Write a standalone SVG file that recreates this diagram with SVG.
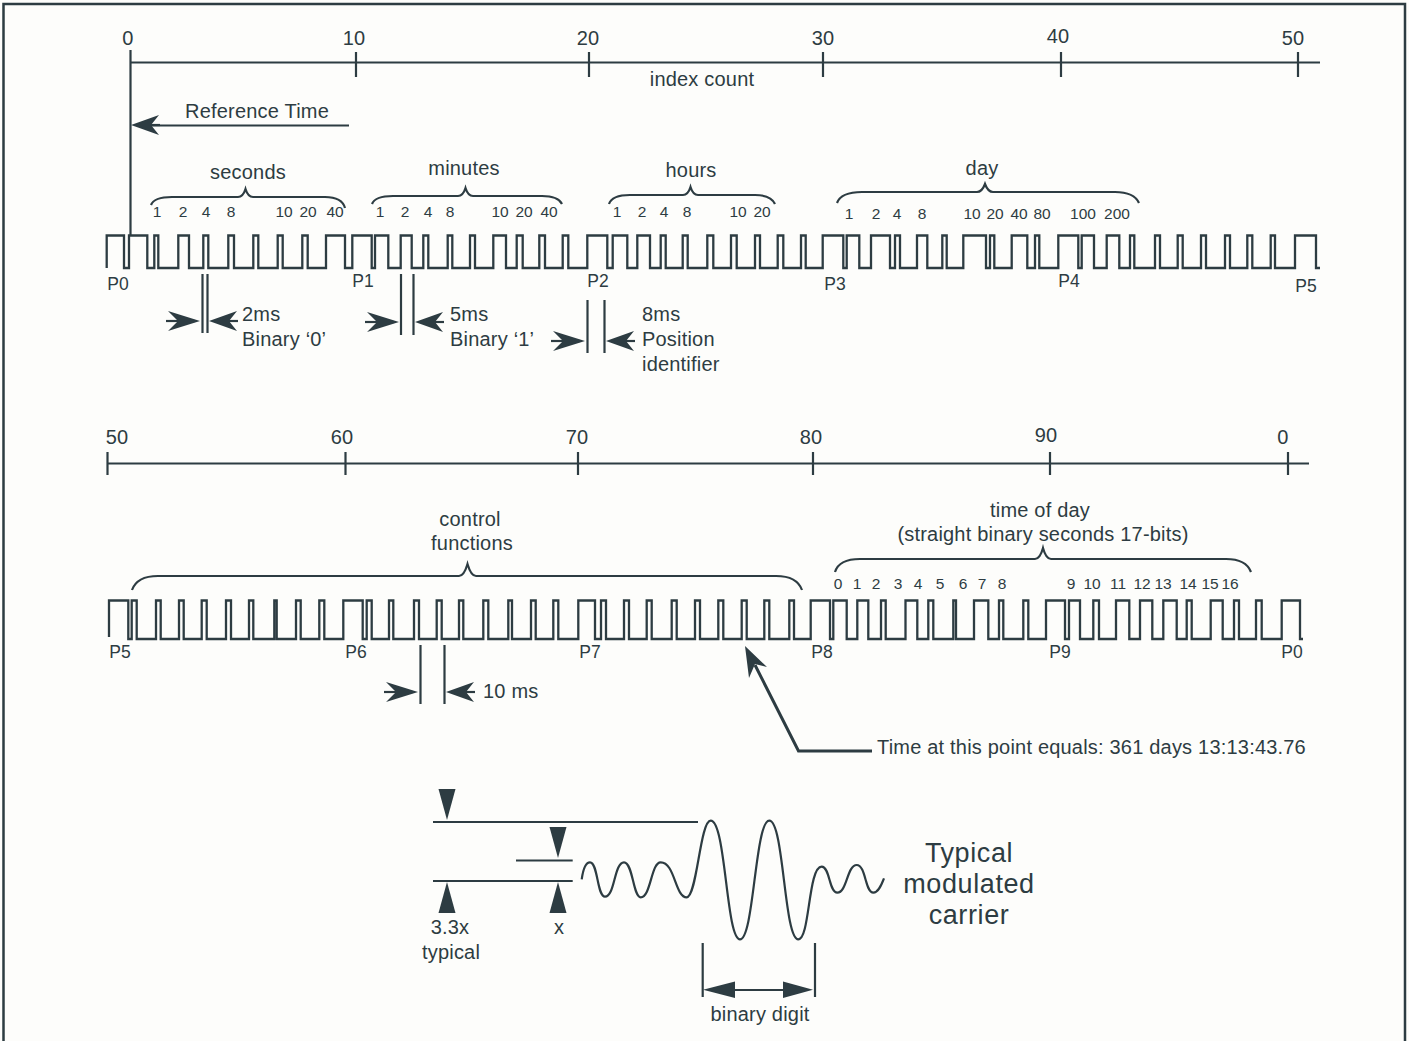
<svg xmlns="http://www.w3.org/2000/svg" xmlns:xlink="http://www.w3.org/1999/xlink" width="1409" height="1041" viewBox="0 0 1409 1041">
<style>
text{font-family:"Liberation Sans",Arial,sans-serif;fill:#2d3c42;text-anchor:middle}
.l{font-size:20px;letter-spacing:.2px}
.s{font-size:15.5px}
.p{font-size:17.5px}
.b{font-size:27px;letter-spacing:.6px}
.st{text-anchor:start}
.line{fill:none;stroke:#2d3c42;stroke-width:2.200}
.wave{fill:none;stroke:#2d3c42;stroke-width:2.300;stroke-linejoin:miter}
.head{fill:#2d3c42}
.tail{stroke:#2d3c42;stroke-width:2.200}
</style>
<defs>
<g id="ar"><line class="tail" x1="-34" y1="0" x2="-5" y2="0"/><polygon class="head" points="0,0 -32,-10 -22,0 -32,10"/></g>
<g id="al"><line class="tail" x1="29" y1="0" x2="5" y2="0"/><polygon class="head" points="0,0 28,-10 20,0 28,10"/></g>
<polygon id="td" class="head" points="0,0 -8.5,-31 8.5,-31"/>
<polygon id="tu" class="head" points="0,0 -8.5,31 8.5,31"/>
</defs>
<rect width="1409" height="1041" fill="#fdfdfb"/>
<path id="frame" d="M3.5 1041V4H1405V1041" fill="none" stroke="#2d3c42" stroke-width="2.500"/>

<g id="index-scale-top">
<path class="line" d="M130 62.500H1320M356 52V77M589 52V77M823 52V77M1061 52V77M1298 52V77"/>
<text class="l" x="128" y="45">0</text><text class="l" x="354" y="45">10</text><text class="l" x="588" y="45">20</text><text class="l" x="823" y="45">30</text><text class="l" x="1058" y="43">40</text><text class="l" x="1293" y="45">50</text>
<text class="l" x="702" y="86">index count</text>
</g>

<g id="reference-time">
<path class="line" d="M130.500 50V235M150 125.500H349"/>
<use href="#al" x="131" y="125"/>
<text class="l" x="257" y="118">Reference Time</text>
</g>

<g id="field-seconds">
<path class="line" d="M151 205Q154 197 172 197H238Q243 197 245.500 189Q248 197 253 197H325Q342 197 345 208"/>
<text class="l" x="248" y="179">seconds</text>
<g class="s"><text x="157" y="217">1</text><text x="183" y="217">2</text><text x="206" y="217">4</text><text x="231" y="217">8</text><text x="284" y="217">10</text><text x="308" y="217">20</text><text x="335" y="217">40</text></g>
</g>
<g id="field-minutes">
<path class="line" d="M372 204Q375 196 393 196H458Q463 196 465.500 188Q468 196 473 196H542Q558 196 562 204"/>
<text class="l" x="464" y="175">minutes</text>
<g class="s"><text x="380" y="217">1</text><text x="405" y="217">2</text><text x="428" y="217">4</text><text x="450" y="217">8</text><text x="500" y="217">10</text><text x="524" y="217">20</text><text x="549" y="217">40</text></g>
</g>
<g id="field-hours">
<path class="line" d="M609 204Q612 195 630 195H683Q688 195 690.500 187Q693 195 698 195H755Q771 195 775 204"/>
<text class="l" x="691" y="177">hours</text>
<g class="s"><text x="617" y="217">1</text><text x="642" y="217">2</text><text x="664" y="217">4</text><text x="687" y="217">8</text><text x="738" y="217">10</text><text x="762" y="217">20</text></g>
</g>
<g id="field-day">
<path class="line" d="M837 203Q841 192 862 192H977Q982 192 985 184Q988 192 993 192H1115Q1134 192 1139 203"/>
<text class="l" x="982" y="175">day</text>
<g class="s"><text x="849" y="219">1</text><text x="876" y="219">2</text><text x="897" y="219">4</text><text x="922" y="219">8</text><text x="972" y="219">10</text><text x="995" y="219">20</text><text x="1019" y="219">40</text><text x="1042" y="219">80</text><text x="1083" y="219">100</text><text x="1117" y="219">200</text></g>
</g>

<g id="timecode-row-1">
<path class="wave" d="M106.700 268V235.500H124V268H129V235.500H147.300V268H154.300V235.500H158.300V268H178.300V235.500H189V268H203.300V235.500H208.300V268H228.300V235.500H234V268H253.300V235.500H258.300V268H277.700V235.500H282.700V268H302.300V235.500H307.700V268H326V235.500H345V268H352.300V235.500H371.700V268H375V235.500H388.300V268H400.700V235.500H411.700V268H423.300V235.500H428.300V268H447.700V235.500H452.300V268H470V235.500H475V268H493.300V235.500H506V268H516.700V235.500H522.700V268H539.300V235.500H545V268H562.700V235.500H568.300V268H587.300V235.500H607.300V268H612.700V235.500H627.300V268H637.300V235.500H650V268H660.700V235.500H665.700V268H682.700V235.500H687.700V268H707.300V235.500H713.300V268H731V235.500H736.700V268H755V235.500H760V268H777.700V235.500H783.300V268H801V235.500H805.700V268H822.700V235.500H843.300V268H846.700V235.500H859.300V268H871V235.500H890V268H895V235.500H900V268H917V235.500H927.300V268H942.300V235.500H946.700V268H963.300V235.500H986V268H990V235.500H994.300V268H1011.700V235.500H1027.300V268H1035V235.500H1039.300V268H1058.300V235.500H1078.300V268H1081.700V235.500H1094V268H1106.700V235.500H1119.300V268H1130V235.500H1134.300V268H1155V235.500H1160V268H1177.700V235.500H1182.700V268H1201V235.500H1206V268H1225V235.500H1230V268H1247.300V235.500H1252.300V268H1270.700V235.500H1275V268H1295V235.500H1316V268H1320"/>
<g class="p"><text x="118" y="290">P0</text><text x="363" y="287">P1</text><text x="598" y="287">P2</text><text x="835" y="290">P3</text><text x="1069" y="287">P4</text><text x="1306" y="292">P5</text></g>
</g>

<g id="width-2ms">
<path class="line" d="M202.500 274V333M207.500 274V333"/>
<use href="#ar" x="200" y="321"/><use href="#al" x="209" y="321"/>
<text class="l st" x="242" y="321">2ms</text><text class="l st" x="242" y="346">Binary ‘0’</text>
</g>
<g id="width-5ms">
<path class="line" d="M401 274V335M413.500 274V335"/>
<use href="#ar" x="399" y="322"/><use href="#al" x="415" y="322"/>
<text class="l st" x="450" y="321">5ms</text><text class="l st" x="450" y="346">Binary ‘1’</text>
</g>
<g id="width-8ms">
<path class="line" d="M587.500 300V353M604.500 300V353"/>
<use href="#ar" x="585" y="341"/><use href="#al" x="606" y="341"/>
<text class="l st" x="642" y="321">8ms</text><text class="l st" x="642" y="346">Position</text><text class="l st" x="642" y="371">identifier</text>
</g>

<g id="index-scale-bottom">
<path class="line" d="M107 463.500H1309M107.500 452V475M345.500 452V475M578 452V475M813 452V475M1050 452V475M1288 452V475"/>
<text class="l" x="117" y="444">50</text><text class="l" x="342" y="444">60</text><text class="l" x="577" y="444">70</text><text class="l" x="811" y="444">80</text><text class="l" x="1046" y="442">90</text><text class="l" x="1283" y="444">0</text>
</g>

<g id="field-control">
<path class="line" d="M132 590Q137 576 158 576H459Q464 576 467.500 564Q471 576 476 576H776Q797 576 802 590"/>
<text class="l" x="470" y="526">control</text><text class="l" x="472" y="550">functions</text>
</g>
<g id="field-time-of-day">
<path class="line" d="M835 572Q839 559 860 559H1035Q1040 559 1043 548Q1046 559 1051 559H1226Q1246 559 1251 572"/>
<text class="l" x="1040" y="517">time of day</text><text class="l" x="1043" y="541">(straight binary seconds 17-bits)</text>
<g class="s"><text x="838" y="589">0</text><text x="857" y="589">1</text><text x="876" y="589">2</text><text x="898" y="589">3</text><text x="918" y="589">4</text><text x="940" y="589">5</text><text x="963" y="589">6</text><text x="982" y="589">7</text><text x="1002" y="589">8</text><text x="1071" y="589">9</text><text x="1092" y="589">10</text><text x="1118" y="589">11</text><text x="1142" y="589">12</text><text x="1163" y="589">13</text><text x="1188" y="589">14</text><text x="1210" y="589">15</text><text x="1230" y="589">16</text></g>
</g>

<g id="timecode-row-2">
<path class="wave" d="M109 637V600.500H128.300V639H131.700V600.500H136.700V639H156V600.500H160.700V639H179V600.500H183.700V639H201.700V600.500H206.700V639H226V600.500H231V639H249V600.500H253.300V639H274.300V600.500H276.700V639H296V600.500H300.700V639H319.300V600.500H324.300V639H343.300V600.500H362.700V639H366.700V600.500H371.700V639H389V600.500H393.300V639H414V600.500H419V639H436.700V600.500H441.700V639H459V600.500H463.300V639H483.300V600.500H488.300V639H508.300V600.500H512V639H531V600.500H535.700V639H553.300V600.500H558.300V639H578.300V600.500H595V639H601V600.500H606V639H624V600.500H629V639H646.700V600.500H651.700V639H671.700V600.500H676.700V639H695V600.500H700V639H718.300V600.500H723.300V639H741.700V600.500H746.700V639H764.300V600.500H769.300V639H789.300V600.500H794V639H810.700V600.500H830V639H833.300V600.500H846.700V639H857.300V600.500H868.300V639H881V600.500H885.700V639H905.500V600.500H917.300V639H928.300V600.500H933.300V639H953.300V600.500H956V639H974V600.500H988.300V639H999V600.500H1003.300V639H1023.300V600.500H1028.300V639H1046V600.500H1065V639H1069V600.500H1080V639H1093.300V600.500H1099V639H1116V600.500H1129.300V639H1140V600.500H1152.300V639H1163.300V600.500H1176.700V639H1186.700V600.500H1191.700V639H1210.700V600.500H1222.700V639H1234V600.500H1239V639H1256V600.500H1261.700V639H1281.700V600.500H1300V639H1303"/>
<g class="p"><text x="120" y="658">P5</text><text x="356" y="658">P6</text><text x="590" y="658">P7</text><text x="822" y="658">P8</text><text x="1060" y="658">P9</text><text x="1292" y="658">P0</text></g>
</g>

<g id="width-10ms">
<path class="line" d="M420.500 645V704M444.500 645V704"/>
<use href="#ar" x="418" y="692"/><use href="#al" x="446" y="692"/>
<text class="l st" x="483" y="698">10 ms</text>
</g>

<g id="connectors">
<path fill="none" stroke="#2d3c42" stroke-width="3" stroke-linejoin="miter" d="M755 665L798.500 751H872"/>
<polygon class="head" points="745,646 767,667 755,664 749,678"/>
</g>
<text id="time-note" class="l st" x="877" y="754">Time at this point equals: 361 days 13:13:43.76</text>

<g id="carrier">
<path class="line" d="M433 822H698M516 860.500H572.700M433 881H572.700"/>
<use href="#td" x="447" y="820"/><use href="#td" x="558" y="858"/><use href="#tu" x="447" y="882"/><use href="#tu" x="558" y="882"/>
<path class="line" stroke-width="2.300" d="M581.700 879.300C583 870 585 862.300 590 862.300C598 862.300 597 896.700 605 896.700C615 896.700 614 862.300 624 862.300C633 862.300 633 897.300 640.700 897.300C651 897.300 651 862.300 660.700 862.300C675 862.300 675 897.300 686.700 897.300C697 897.300 700 820.700 710.700 820.700C726 820.700 726 939.300 740 939.300C754 939.300 755 820.700 769.300 820.700C784 820.700 784 939.300 798.300 939.300C810 939.300 808 866.700 821.700 866.700C830 866.700 829 892.700 837.300 892.700C847 892.700 847 865 856.700 865C866 865 865 892.700 873.300 892.700C878 892.700 881 886 884 878.300"/>
<path class="line" d="M702.700 943V997M815 943V997M730 990H790"/>
<polygon class="head" points="703,989.700 735,981.500 735,998"/>
<polygon class="head" points="813,989.700 783,981.500 783,998"/>
<text class="l" x="450" y="934">3.3x</text><text class="l" x="451" y="959">typical</text><text class="l" x="559" y="934">x</text>
<text class="l" x="760" y="1021">binary digit</text>
<text class="b" x="969" y="862">Typical</text><text class="b" x="969" y="893">modulated</text><text class="b" x="969" y="924">carrier</text>
</g>
</svg>
